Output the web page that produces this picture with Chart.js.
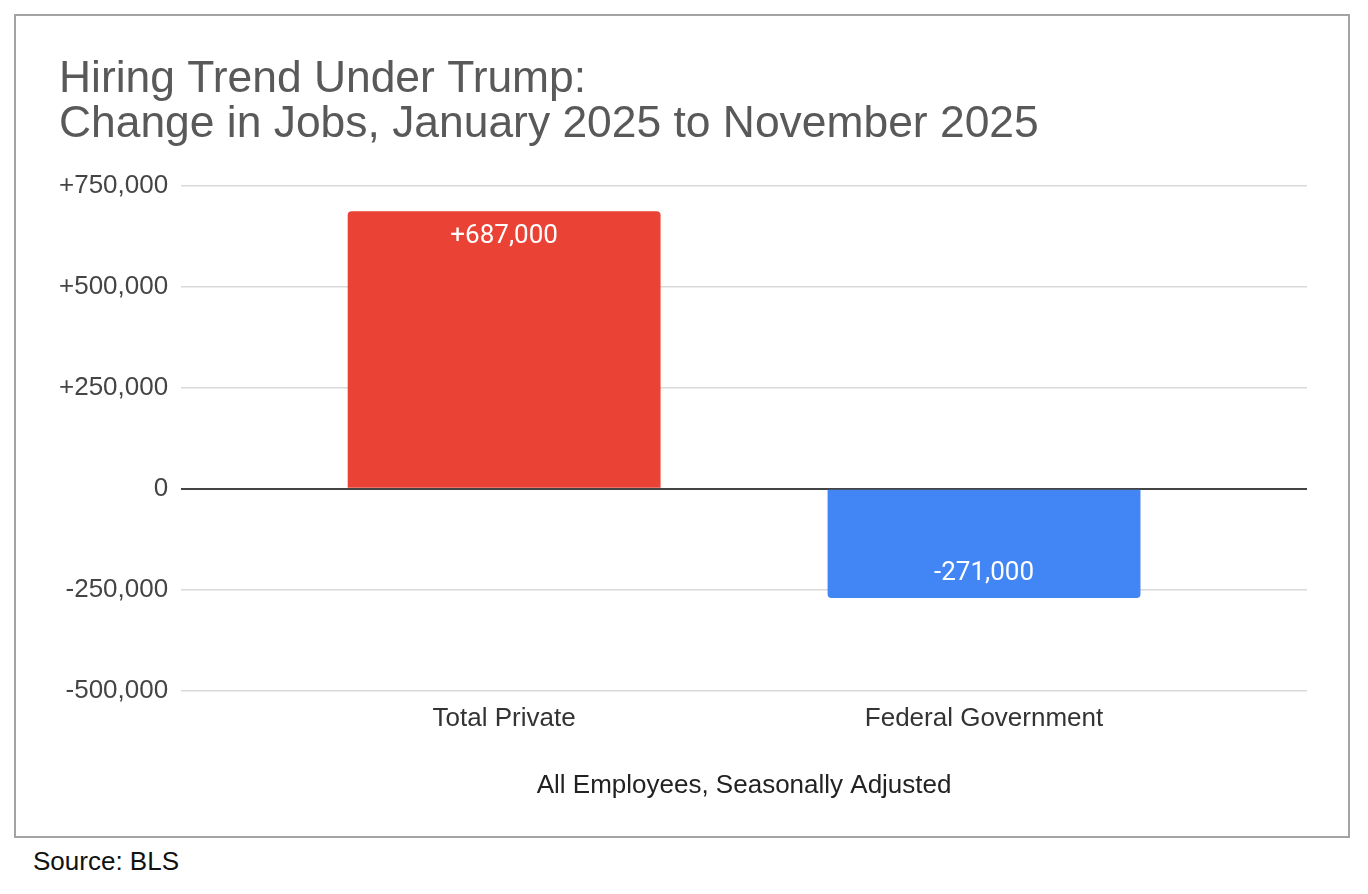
<!DOCTYPE html>
<html>
<head>
<meta charset="utf-8">
<script src="https://cdn.jsdelivr.net/npm/chart.js@4"></script>
<style>
  body { margin: 0; background: #fff; }
  #box {
    position: absolute; left: 14px; top: 14px;
    width: 1336px; height: 824px;
    box-sizing: border-box; border: 2px solid #a3a3a3;
  }
  #source {
    position: absolute; left: 33px; top: 846px;
    font: 26px "Liberation Sans", Arial, sans-serif; color: #111;
  }
</style>
</head>
<body>
<div id="box"><canvas id="chart"></canvas></div>
<div id="source">Source: BLS</div>
<script>
const categories = ["Total Private", "Federal Government"];
const jobChange = [687000, -271000];
const barColors = ["#ea4335", "#4285f4"];
const titleLines = ["Hiring Trend Under Trump:", "Change in Jobs, January 2025 to November 2025"];
const xTitle = "All Employees, Seasonally Adjusted";

function fmt(v) {
    const s = Math.abs(v).toLocaleString("en-US");
    if (v > 0) return "+" + s;
    if (v < 0) return "-" + s;
    return "0";
}

// ── value labels inside the bars ──
const barLabels = {
    id: "barLabels",
    afterDatasetsDraw(chart) {
        const ctx = chart.ctx;
        const meta = chart.getDatasetMeta(0);
        ctx.save();
        ctx.fillStyle = "#fff";
        ctx.font = "400 26px Roboto";
        ctx.textAlign = "center";
        ctx.textBaseline = "middle";
        meta.data.forEach((bar, i) => {
            const v = jobChange[i];
            const y = v >= 0 ? bar.y + 25 : bar.y - 25;
            ctx.fillText(fmt(v), bar.x, y);
        });
        ctx.restore();
    },
};

const tickFont = { family: "'Liberation Sans', Arial", size: 26 };

new Chart(document.getElementById("chart"), {
    type: "bar",
    data: {
        datasets: [{
            data: jobChange.map((v, i) => ({ x: i, y: v })),
            backgroundColor: barColors,
            borderRadius: 4,
            barPercentage: 0.652,
            categoryPercentage: 1,
        }],
    },
    plugins: [barLabels],
    options: {
        responsive: true,
        maintainAspectRatio: false,
        animation: false,
        layout: { padding: { left: 43, right: 41, top: 0, bottom: 35 } },
        plugins: {
            legend: { display: false },
            tooltip: { enabled: false },
            title: {
                display: true,
                text: titleLines,
                align: "start",
                color: "#595959",
                font: { family: "'Liberation Sans', Arial", size: 44.4, weight: "normal", lineHeight: 1.0 },
                padding: { top: 42, bottom: 39 },
            },
        },
        scales: {
            x: {
                type: "linear",
                offset: false,
                min: -0.673,
                max: 1.673,
                afterBuildTicks: (scale) => {
                    scale.ticks = categories.map((c, i) => ({ value: i }));
                },
                ticks: {
                    callback: (v) => categories[v],
                    color: "#333",
                    font: tickFont,
                    padding: 13,
                    maxRotation: 0,
                },
                grid: { display: false, drawTicks: false, offset: false },
                border: { display: false },
                title: {
                    display: true,
                    text: xTitle,
                    color: "#222",
                    font: tickFont,
                    padding: { top: 22, bottom: 0 },
                },
            },
            y: {
                min: -500000,
                max: 750000,
                afterFit: (scale) => { scale.width -= 13; },
                ticks: {
                    stepSize: 250000,
                    callback: (v) => fmt(v),
                    color: "#444",
                    font: tickFont,
                    padding: 13,
                },
                grid: {
                    drawTicks: false,
                    color: (c) => (c.tick && c.tick.value === 0 ? "#444" : "#d9d9d9"),
                    lineWidth: (c) => (c.tick && c.tick.value === 0 ? 2 : 1.5),
                },
                border: { display: false },
            },
        },
    },
});
</script>
</body>
</html>
